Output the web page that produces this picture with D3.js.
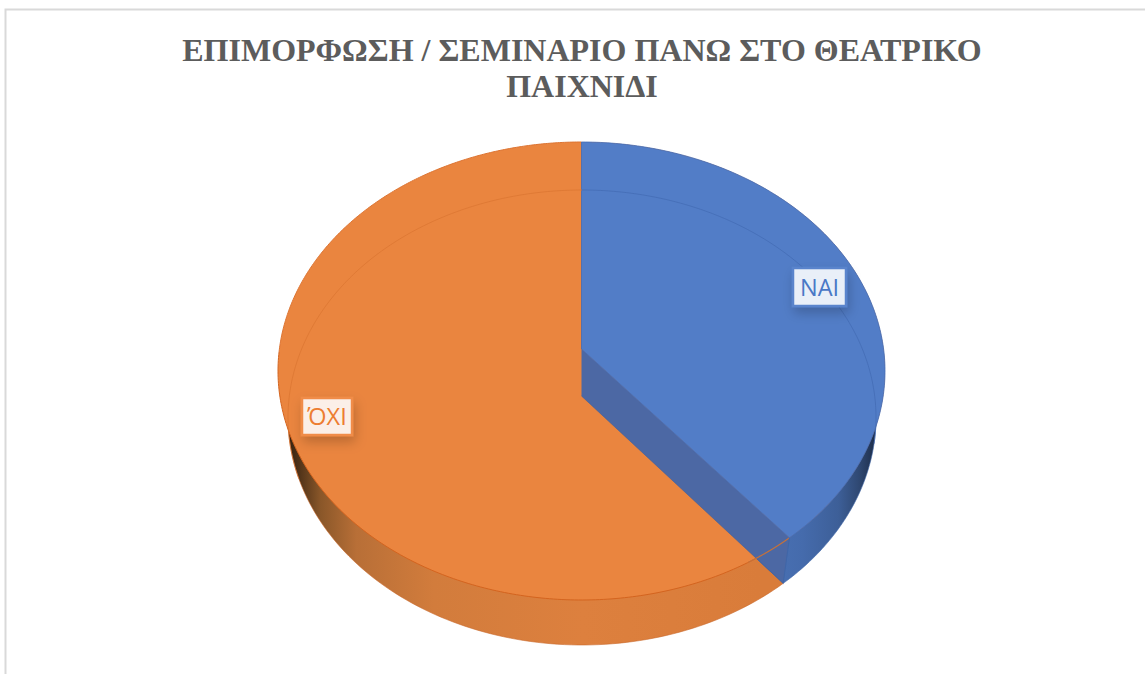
<!DOCTYPE html>
<html><head><meta charset="utf-8">
<script src="https://cdn.jsdelivr.net/npm/d3@7/dist/d3.min.js"></script>
<style>html,body{margin:0;padding:0;background:#fff;overflow:hidden}svg{display:block}</style>
</head><body><svg id="c" width="1145" height="674"></svg>
<script>
const categories = ["ΝΑΙ", "ΌΧΙ"];
const values = [39, 61];
const titleLines = ["ΕΠΙΜΟΡΦΩΣΗ / ΣΕΜΙΝΑΡΙΟ ΠΑΝΩ ΣΤΟ ΘΕΑΤΡΙΚΟ", "ΠΑΙΧΝΙΔΙ"];

const svg = d3.select("#c");
const defs = svg.append("defs");

function grad(id, stops){
  const g = defs.append("linearGradient").attr("id", id).attr("gradientUnits","userSpaceOnUse")
    .attr("x1",285).attr("x2",880).attr("y1",0).attr("y2",0);
  stops.forEach(s => g.append("stop").attr("offset", s[0]).attr("stop-color", s[1]));
}
grad("wallO", [[0,"#2e1c0c"],[0.02,"#4a2f17"],[0.06,"#8a5729"],[0.12,"#b86f37"],[0.25,"#d27c3c"],[0.5,"#dd803e"],[0.8,"#d97c3a"],[1,"#d97c3a"]]);
grad("wallB", [[0.8,"#4a72b6"],[0.87,"#456bac"],[0.93,"#3d5f98"],[0.965,"#2f4872"],[0.985,"#223555"],[1,"#1a2842"]]);
const shadow = defs.append("filter").attr("id","sh").attr("x","-40%").attr("y","-40%").attr("width","190%").attr("height","200%");
shadow.append("feDropShadow").attr("dx",2).attr("dy",6).attr("stdDeviation",6).attr("flood-color","#000").attr("flood-opacity",0.2);

// frame
svg.append("path").attr("d","M5.5,674V9.5H1145").attr("fill","none").attr("stroke","#d9d9d9").attr("stroke-width",2);

// two ellipses of the tilted pie, seen in perspective
function disc(cx, cy, rx, ry, apexX, apexY){
  const x = d3.scaleLinear().domain([-1,1]).range([cx-rx, cx+rx]);
  const y = d3.scaleLinear().domain([-1,1]).range([cy-ry, cy+ry]);
  const e = (apexY-cy)/ry;
  const at = a => {
    const px = Math.sin(a), py = -Math.cos(a), w = 1+e*py;
    return [x(px*Math.sqrt(1-e*e)/w), y((py+e)/w)];
  };
  return {at, apex:[apexX, apexY]};
}
const top_ = disc(581.5, 371, 303.5, 229, 581.5, 349);
const bot = disc(582, 417.5, 294, 227.5, 581.5, 396);

const arcs = d3.pie().sort(null).value(d=>d)(values);
const line = d3.line();
const arcPts = (D,a0,a1) => d3.range(0,181).map(i => D.at(a0+(a1-a0)*i/180));
const sector = (D,a) => line([D.apex, ...arcPts(D,a.startAngle,a.endAngle)])+"Z";

const B = arcs[0], O = arcs[1];
const tip = B.endAngle;

// outer walls (bottom disc silhouette)
svg.append("path").attr("d",sector(bot,O)).attr("fill","url(#wallO)").attr("stroke","#c9682a").attr("stroke-width",0.6);
svg.append("path").attr("d",sector(bot,B)).attr("fill","url(#wallB)").attr("stroke","#3f66a8").attr("stroke-width",0.6);

// orange top surface: whole upper ellipse
svg.append("path").attr("d",line(arcPts(top_,0,2*Math.PI))+"Z").attr("fill","#ea853f");
svg.append("path").attr("d",line(arcPts(top_,tip,4.7))).attr("fill","none").attr("stroke","#d4641f").attr("stroke-width",1);
svg.append("path").attr("d",line(arcPts(top_,4.7,2*Math.PI))).attr("fill","none").attr("stroke","#dd7432").attr("stroke-width",1);

// inner blue wall of the cut
svg.append("path").attr("d",line([top_.apex,bot.apex,bot.at(tip),top_.at(tip)])+"Z").attr("fill","#4c68a4");
svg.append("path").attr("d",line([bot.apex,bot.at(tip)])).attr("stroke","#3f5f9c").attr("stroke-width",0.6).attr("fill","none");
// edge of top ellipse running over the wall
svg.append("path").attr("d",line(arcPts(top_,tip,tip+0.16))).attr("fill","none").attr("stroke","#c5713a").attr("stroke-width",1.2);

// blue top wedge
svg.append("path").attr("d",sector(top_,B)).attr("fill","#527dc7").attr("stroke","#446cb5").attr("stroke-width",0.8);
svg.append("path").attr("d",line([top_.at(tip),bot.at(tip)])).attr("stroke","#3f66a8").attr("stroke-width",1).attr("fill","none");

// faint rim of the far disc seen through the surface
const faint = (a0,a1,c) => svg.append("path").attr("d",line(arcPts(bot,a0,a1))).attr("fill","none").attr("stroke",c).attr("stroke-width",1).attr("stroke-opacity",0.65);
faint(0,1.78,"#4068b0");
faint(4.35,2*Math.PI,"#d8732f");

// labels
const labelBoxes = [
  {x:793,y:268,w:53,h:38,fill:"#e9eff8",stroke:"#5a84cc",text:"#4a78c6"},
  {x:302,y:398,w:50,h:37,fill:"#fbefe8",stroke:"#f08c48",text:"#ed7d31"}
];
labelBoxes.forEach((b,i)=>{
  const g = svg.append("g");
  g.append("rect").attr("x",b.x).attr("y",b.y).attr("width",b.w).attr("height",b.h)
    .attr("fill",b.fill).attr("stroke",b.stroke).attr("stroke-width",2.5).attr("filter","url(#sh)");
  g.append("text").attr("x",b.x+b.w/2).attr("y",b.y+b.h/2+8.5).attr("text-anchor","middle")
    .attr("font-family","'Open Sans', sans-serif").attr("font-size",23.5).attr("fill",b.text).text(categories[i]);
});

// title
svg.append("g").selectAll("text").data(titleLines).join("text")
  .attr("x",582).attr("y",(d,i)=>61+i*36).attr("text-anchor","middle")
  .attr("font-family","'Liberation Serif', serif").attr("font-weight","bold").attr("font-size",32)
  .attr("fill","#5c5c5c").text(d=>d);
</script></body></html>
